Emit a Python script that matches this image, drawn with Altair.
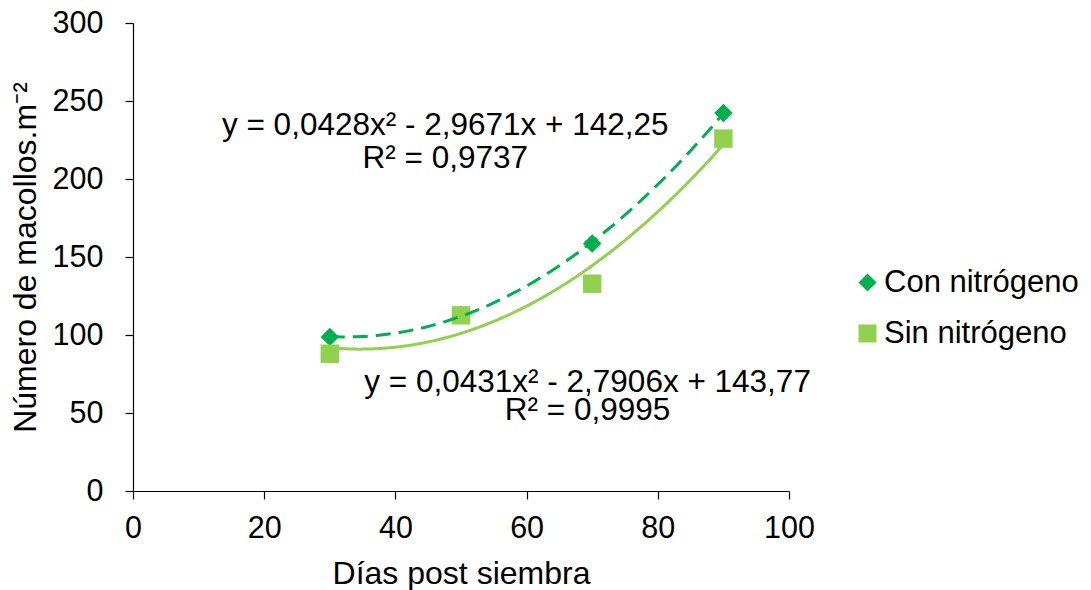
import altair as alt
import pandas as pd

dias = [30, 50, 70, 90]
con_n = [98.7, 113.0, 158.6, 242.3]
sin_n = [88.0, 112.6, 132.9, 225.9]
series = ["Con nitrógeno", "Sin nitrógeno"]
colors = ["#00B050", "#92D050"]
shapes = ["diamond", "square"]

eq_con = ["y = 0,0428x² - 2,9671x + 142,25", "R² = 0,9737"]
eq_sin = ["y = 0,0431x² - 2,7906x + 143,77", "R² = 0,9995"]

rows = []
for d, v in zip(dias, con_n):
    rows.append({"x": d, "y": v, "serie": series[0], "col": colors[0]})
for d, v in zip(dias, sin_n):
    rows.append({"x": d, "y": v, "serie": series[1], "col": colors[1]})
df = pd.DataFrame(rows)

FONT = "Liberation Sans"

xenc = alt.X("x:Q", scale=alt.Scale(domain=[0, 100], nice=False),
             axis=alt.Axis(title="Días post siembra", values=[0, 20, 40, 60, 80, 100],
                           grid=False, labelPadding=14, titlePadding=15, labelFlush=False))
yenc = alt.Y("y:Q", scale=alt.Scale(domain=[0, 300], nice=False),
             axis=alt.Axis(title="Número de macollos.m⁻²", values=[0, 50, 100, 150, 200, 250, 300],
                           grid=False, labelPadding=22, titlePadding=10, labelFlush=False))

points = alt.Chart(df).mark_point(filled=True, size=340, opacity=1, strokeWidth=0).encode(
    x=xenc, y=yenc,
    color=alt.Color("serie:N", scale=alt.Scale(domain=series, range=colors),
                    legend=alt.Legend(title=None, orient="none", legendX=719, legendY=244)),
    shape=alt.Shape("serie:N", scale=alt.Scale(domain=series, range=shapes), legend=alt.Legend(title=None)),
)

lines = alt.Chart(df).transform_regression(
    "x", "y", method="poly", order=2, groupby=["serie", "col"]
).mark_line(strokeWidth=3).encode(
    x="x:Q", y="y:Q",
    color=alt.Color("col:N", scale=None),
    strokeDash=alt.StrokeDash("serie:N", scale=alt.Scale(domain=series, range=[[15, 8], [1, 0]]), legend=None),
    detail="serie:N",
)

def txt(s, xv, yv):
    return alt.Chart(pd.DataFrame({"t": [s]})).mark_text(
        font=FONT, fontSize=31.5, color="#000000", align="center", baseline="alphabetic"
    ).encode(x=alt.datum(xv), y=alt.datum(yv), text="t:N")

texts = (txt(eq_con[0], 47.6, 228.0) + txt(eq_con[1], 47.6, 206.8)
         + txt(eq_sin[0], 69.3, 63.6) + txt(eq_sin[1], 69.3, 45.6))

chart = alt.layer(points, lines, texts).properties(
    width=656, height=468,
    padding={"left": 133, "top": 23, "right": 302, "bottom": 99},
    autosize=alt.AutoSizeParams(type="none"),
).configure_view(stroke=None).configure_axis(
    labelFont=FONT, titleFont=FONT, labelFontSize=30.5, titleFontSize=32,
    labelColor="#000000", titleColor="#000000", titleFontWeight="normal",
    domainColor="#000000", tickColor="#000000", tickSize=8, domainWidth=1.2, tickWidth=1.2,
).configure_legend(
    labelFont=FONT, labelFontSize=31, labelColor="#000000", symbolSize=324,
    symbolStrokeWidth=0, rowPadding=19, labelOffset=1, padding=0, symbolOpacity=1,
    labelLimit=0,
)

chart.save("out.html", embed_options={"renderer": "svg", "actions": False})
